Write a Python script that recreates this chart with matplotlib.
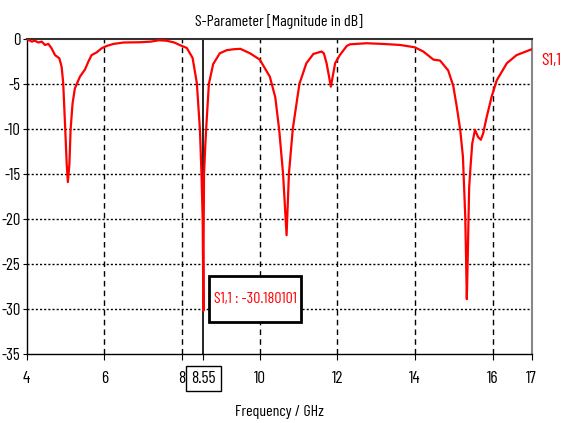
import numpy as np
import matplotlib
matplotlib.use("Agg")
import matplotlib.pyplot as plt
from matplotlib.patches import Rectangle

plt.rcParams['font.family'] = ['Barlow Condensed', 'DejaVu Sans']
plt.rcParams['axes.unicode_minus'] = False

# S1,1 magnitude (dB)
freq = [4.0, 4.13, 4.21, 4.3, 4.39, 4.47, 4.56, 4.64, 4.73, 4.84, 4.9, 4.94,
        4.99, 5.03, 5.06, 5.1, 5.13, 5.18, 5.24, 5.37, 5.5, 5.59, 5.67, 5.8,
        5.93, 6.06, 6.23, 6.49, 6.92, 7.2, 7.4, 7.6, 7.8, 7.95, 8.12, 8.27,
        8.38, 8.46, 8.5, 8.53, 8.545, 8.55, 8.555, 8.565, 8.6, 8.62, 8.69,
        8.8, 8.97, 9.15, 9.32, 9.5, 9.75, 10.0, 10.26, 10.4, 10.5, 10.6,
        10.69, 10.75, 10.85, 11.02, 11.2, 11.38, 11.59, 11.65, 11.72, 11.83,
        11.94, 12.06, 12.24, 12.32, 12.75, 13.18, 13.61, 13.99, 14.21, 14.47,
        14.64, 14.85, 14.98, 15.07, 15.16, 15.23, 15.29, 15.33, 15.35, 15.39,
        15.43, 15.47, 15.54, 15.62, 15.69, 15.75, 15.84, 15.97, 16.1, 16.36,
        16.61, 17.0]
s11 = [0.0, -0.3, -0.2, -0.4, -0.3, -0.67, -0.56, -1.04, -1.8, -2.15, -3.1, -4.9,
       -9.8, -13.9, -15.9, -13.9, -10.1, -7.2, -5.5, -4.2, -3.4, -2.5, -1.8, -1.5,
       -1.04, -0.78, -0.56, -0.4, -0.37, -0.3, -0.15, -0.2, -0.4, -0.7, -1.0, -2.1,
       -4.9, -10.1, -15.0, -20.0, -28.0, -30.18, -22.0, -15.0, -11.6, -10.0, -5.0,
       -2.8, -1.6, -1.25, -1.15, -1.1, -1.6, -2.3, -4.2, -6.5, -10.1, -15.0,
       -21.8, -15.0, -10.0, -5.0, -2.7, -1.67, -1.4, -1.6, -2.7, -5.3,
       -2.7, -1.8, -0.78, -0.6, -0.48, -0.56, -0.67, -0.93, -1.4, -2.3,
       -2.4, -3.5, -5.2, -7.5, -10.1, -13.1, -19.8, -28.9, -25.0, -16.5,
       -13.9, -11.6, -10.1, -10.9, -11.2, -10.5, -8.7, -6.4, -4.6, -2.7,
       -1.8, -1.15]

marker_freq = 8.55
marker_val = -30.180101
xticks = [4, 6, 8, 8.55, 10, 12, 14, 16, 17]
yticks = [0, -5, -10, -15, -20, -25, -30, -35]

fig = plt.figure(figsize=(5.63, 4.23), dpi=100)
ax = fig.add_axes([0.0474, 0.163, 0.897, 0.745])

ax.plot(freq, s11, color='red', lw=1.6, zorder=3)

ax.set_xlim(4, 17)
ax.set_ylim(-35, 0)
ax.set_xticks(xticks)
ax.set_xticklabels([str(t) for t in xticks])
ax.set_yticks(yticks)
ax.set_yticklabels([str(t) for t in yticks])
ax.tick_params(labelsize=12.5, length=4, pad=2, direction='out', color='black')
ax.tick_params(axis='x', pad=8)
ax.tick_params(axis='y', labelsize=12, pad=1.5, length=3)

# grid: dashed verticals, dotted horizontals
for t in [6, 8, 10, 12, 14, 16]:
    ax.axvline(t, color='black', lw=1, ls=(0, (4, 3)), zorder=1)
for t in [-5, -10, -15, -20, -25, -30]:
    ax.axhline(t, color='black', lw=1, ls=(0, (1.5, 1.5)), zorder=1)

# marker line
ax.axvline(marker_freq, color='black', lw=1.2, zorder=2.5)

for side in ['left', 'bottom']:
    ax.spines[side].set_color('black')
    ax.spines[side].set_linewidth(1)
ax.spines['top'].set_color('#333333')
ax.spines['top'].set_linewidth(1.5)
ax.spines['right'].set_color('#888888')
ax.spines['right'].set_linewidth(1.5)

# marker readout box
ax.add_patch(Rectangle((8.70, -31.4), 2.37, 5.1, fc='white', ec='black',
                       lw=2, zorder=5))
ax.text(9.885, -28.85, 'S1,1 : ' + '%.6f' % marker_val, color='red',
        fontsize=11.5, ha='center', va='center', zorder=6)

for lab in ax.get_xticklabels():
    if lab.get_text() == '8.55':
        lab.set_bbox(dict(boxstyle='square,pad=0.3', fc='white', ec='black', lw=1))

ax.set_title('S-Parameter [Magnitude in dB]', fontsize=11.5, pad=9)
ax.set_xlabel('Frequency / GHz', fontsize=11.5, labelpad=14)
fig.text(0.961, 1 - 60 / 423, 'S1,1', color='red', fontsize=13, va='center')

fig.savefig('out.png', dpi=100, facecolor='white')
